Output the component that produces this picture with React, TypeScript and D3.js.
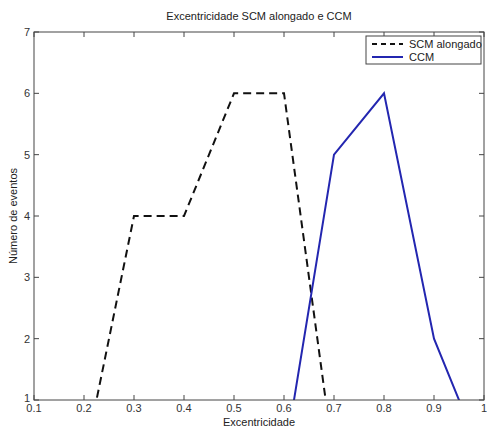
import React from "react";
import * as d3 from "d3";

const xValues = [0.2, 0.3, 0.4, 0.5, 0.6, 0.7];
const scmValues = [0, 4, 4, 6, 6, 0];
const ccmX = [0.6, 0.7, 0.8, 0.9, 1.0];
const ccmValues = [0, 5, 6, 2, 0];
const xTicks = [0.1, 0.2, 0.3, 0.4, 0.5, 0.6, 0.7, 0.8, 0.9, 1];
const yTicks = [1, 2, 3, 4, 5, 6, 7];

const W = 487, H = 428;
const L = 34, R = 484, T = 32, B = 400;

export default function App() {
  const x = d3.scaleLinear().domain([0.1, 1]).range([L, R]);
  const y = d3.scaleLinear().domain([1, 7]).range([B, T]);
  const line = d3.line<[number, number]>().x(d => x(d[0])).y(d => y(d[1]));
  const scm = line(xValues.map((v, i) => [v, scmValues[i]] as [number, number]))!;
  const ccm = line(ccmX.map((v, i) => [v, ccmValues[i]] as [number, number]))!;
  const font = "Liberation Sans, Arial, sans-serif";
  const tl = 5;
  return (
    <svg width={W} height={H} style={{ position: "absolute", left: 0, top: 0, background: "#fff" }} fontFamily={font}>
      <defs>
        <clipPath id="plot">
          <rect x={L} y={T} width={R - L} height={B - T} />
        </clipPath>
      </defs>
      <rect x={0} y={0} width={W} height={H} fill="#fff" />
      <text x={(L + R) / 2} y={20} textAnchor="middle" fontSize={11} fill="#222">Excentricidade SCM alongado e CCM</text>
      <g clipPath="url(#plot)">
        <path d={scm} fill="none" stroke="#111" strokeWidth={2} strokeDasharray="8,5" />
        <path d={ccm} fill="none" stroke="#2326b0" strokeWidth={2} />
      </g>
      <rect x={L} y={T} width={R - L} height={B - T} fill="none" stroke="#444" strokeWidth={1} />
      {xTicks.map(t => (
        <g key={"x" + t}>
          <line x1={x(t)} x2={x(t)} y1={B} y2={B - tl} stroke="#444" />
          <line x1={x(t)} x2={x(t)} y1={T} y2={T + tl} stroke="#444" />
          <text x={x(t)} y={B + 12} textAnchor="middle" fontSize={11} fill="#333">{String(t)}</text>
        </g>
      ))}
      {yTicks.map(t => (
        <g key={"y" + t}>
          <line x1={L} x2={L + tl} y1={y(t)} y2={y(t)} stroke="#444" />
          <line x1={R} x2={R - tl} y1={y(t)} y2={y(t)} stroke="#444" />
          <text x={L - 4} y={y(t) + (t === 1 ? 2 : 4)} textAnchor="end" fontSize={11} fill="#333">{String(t)}</text>
        </g>
      ))}
      <text x={(L + R) / 2} y={426} textAnchor="middle" fontSize={11} fill="#222">Excentricidade</text>
      <text transform={`translate(17,${(T + B) / 2}) rotate(-90)`} textAnchor="middle" fontSize={11} fill="#222">Número de eventos</text>
      <g>
        <rect x={366} y={36} width={115} height={28} fill="#fff" stroke="#444" />
        <line x1={372} x2={403} y1={44} y2={44} stroke="#111" strokeWidth={2} strokeDasharray="5,4" />
        <text x={409} y={48} fontSize={11} fill="#222">SCM alongado</text>
        <line x1={372} x2={403} y1={57} y2={57} stroke="#2326b0" strokeWidth={2} />
        <text x={409} y={61} fontSize={11} fill="#222">CCM</text>
      </g>
    </svg>
  );
}
